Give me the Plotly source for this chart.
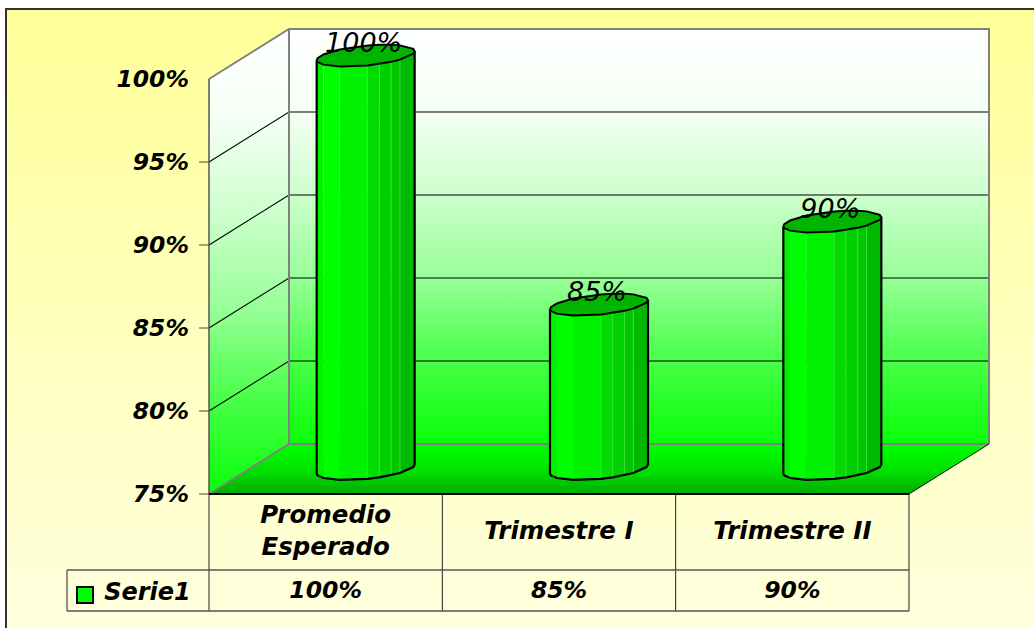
import plotly.graph_objects as go

categories = ["Promedio<br>Esperado", "Trimestre I", "Trimestre II"]
series_name = "Serie1"
series_values = [100, 85, 90]
drawn_heights = [99.9, 84.9, 89.9]
tick_values = [75, 80, 85, 90, 95, 100]

W, H = 1034, 628
L, R, B, T = 209, 909, 494, 79
DPX, DPY = 80, 50
FONT = "DejaVu Sans"

WALL_SCALE = [[0, "#FFFFFF"], [0.2, "#F4FFF4"], [0.4, "#CCFFCC"],
              [0.6, "#98FF98"], [0.8, "#48FF48"], [1, "#08FF08"]]
FLOOR_SCALE = [[0, "#00FF00"], [0.5, "#00E400"], [1, "#00AC00"]]
BACK_SCALE = [[0, "#FFFF99"], [1, "#FFFFDE"]]


def X(px):
    return (px - L) / (R - L) * 3 - 0.5


def Y(py):
    return 75 + (B - py) / (B - T) * 25


DX = DPX / (R - L) * 3
DY = DPY / (B - T) * 25
x0, x1 = -0.5, 2.5
y0, y1 = 75, 100

fig = go.Figure()


def poly(xs, ys, top, bottom, scale):
    fig.add_trace(go.Scatter(
        x=xs, y=ys, mode="lines", fill="toself", line=dict(width=0),
        fillgradient=dict(type="vertical", start=top, stop=bottom, colorscale=scale),
        hoverinfo="skip", showlegend=False))


def lines(segs, color, width):
    xs, ys = [], []
    for s in segs:
        for p in s:
            xs.append(p[0]); ys.append(p[1])
        xs.append(None); ys.append(None)
    fig.add_trace(go.Scatter(x=xs, y=ys, mode="lines", line=dict(color=color, width=width),
                             hoverinfo="skip", showlegend=False))


def text(x, y, s, size, bold=True, color="#000000"):
    fig.add_trace(go.Scatter(
        x=[x], y=[y], mode="text", text=[s], textposition="middle center",
        textfont=dict(family=FONT, size=size, color=color,
                      style="italic", weight="bold" if bold else "normal"),
        hoverinfo="skip", showlegend=False, cliponaxis=False))


# chart area background
poly([X(6), X(W), X(W), X(6), X(6)], [Y(9), Y(9), Y(H), Y(H), Y(9)], Y(9), Y(H), BACK_SCALE)

# walls and floor
poly([x0, x0 + DX, x0 + DX, x0, x0], [y1, y1 + DY, y0 + DY, y0, y1],
     y1 + DY, y0, WALL_SCALE)
poly([x0 + DX, x1 + DX, x1 + DX, x0 + DX, x0 + DX],
     [y1 + DY, y1 + DY, y0 + DY, y0 + DY, y1 + DY],
     y1 + DY, y0 + DY, WALL_SCALE)
poly([x0, x0 + DX, x1 + DX, x1, x0], [y0, y0 + DY, y0 + DY, y0, y0],
     y0 + DY, y0, FLOOR_SCALE)

# gridlines
inner = tick_values[1:-1]
lines([[(x0, v), (x0 + DX, v + DY), (x1 + DX, v + DY)] for v in inner], "#000000", 1.1)
# wall edges
lines([[(x0, y0), (x0 + DX, y0 + DY), (x1 + DX, y0 + DY)],
       [(x0, y1), (x0 + DX, y1 + DY), (x1 + DX, y1 + DY), (x1 + DX, y0 + DY)],
       [(x0 + DX, y1 + DY), (x0 + DX, y0 + DY)]], "#808080", 2)
lines([[(x1, y0), (x1 + DX, y0 + DY)]], "#111111", 1)

# cylinders
U = [-1, -0.98, -0.86, -0.53, 0.04, 0.28, 0.52, 0.7, 0.97, 1]
FACET_U = [(-1, -0.86), (-0.86, -0.53), (-0.53, 0.04), (0.04, 0.28), (0.28, 0.52), (0.52, 0.7), (0.7, 1)]
FACET_C = ["#00F000", "#00FF00", "#00F200", "#00DC00", "#00D000", "#00C600", "#00B800"]
A = 49 / (R - L) * 3
Bb = 10 / (B - T) * 25
TILT = 4.5 / (B - T) * 25


def edge(u, v, sign):
    r = max(0.0, 1 - u * u) ** 0.5
    return v + TILT * u + sign * Bb * r


for i, h in enumerate(drawn_heights):
    cx = i + DX / 2
    cy_top = h + DY / 2
    cy_base = y0 + DY / 2
    for (a, b), c in zip(FACET_U, FACET_C):
        us = [u for u in U if a <= u <= b]
        fx = [cx + A * u for u in us] + [cx + A * u for u in reversed(us)]
        fy = [edge(u, cy_top, -1) for u in us] + [edge(u, cy_base, -1) for u in reversed(us)]
        fig.add_trace(go.Scatter(x=fx + fx[:1], y=fy + fy[:1], mode="lines", fill="toself",
                                 fillcolor=c, line=dict(width=0), hoverinfo="skip",
                                 showlegend=False))
    lines([[(cx + A * u, edge(u, cy_top, -1)), (cx + A * u, edge(u, cy_base, -1))]
           for u in (0.04, 0.28, 0.52, 0.7)], "#33E533", 1)
    # top cap
    tx = [cx + A * u for u in U] + [cx + A * u for u in reversed(U)]
    ty = [edge(u, cy_top, -1) for u in U] + [edge(u, cy_top, 1) for u in reversed(U)]
    fig.add_trace(go.Scatter(x=tx, y=ty, mode="lines", fill="toself", fillcolor="#00B400",
                             line=dict(color="#000000", width=2), hoverinfo="skip",
                             showlegend=False))
    # outline
    ox = [cx - A, cx - A] + [cx + A * u for u in U] + [cx + A]
    oy = [cy_top - TILT, cy_base - TILT] + [edge(u, cy_base, -1) for u in U] + [cy_top + TILT]
    lines([list(zip(ox, oy))], "#000000", 2.2)
    # data label
    text(cx - 2 / (R - L) * 3, cy_top + 10 / (B - T) * 25, f"{series_values[i]}%", 27, bold=False)

# outer frame
lines([[(X(6), Y(H)), (X(6), Y(9)), (X(W), Y(9))]], "#333333", 2)

# value axis line and ticks (no tick at the top edge)
lines([[(x0, y0), (x0, y1)]], "#555555", 1.5)
lines([[(X(199), v), (x0, v)] for v in tick_values[:-1]], "#444444", 1)

# data table
ROW1, ROW2 = Y(570), Y(611)
KEY_L = X(67)
lines([[(x0, y0), (x0, ROW2)]] + [[(k - 0.5, y0), (k - 0.5, ROW2)] for k in (1, 2, 3)]
      + [[(KEY_L, ROW1), (KEY_L, ROW2)]], "#222222", 1)
lines([[(KEY_L, ROW1), (x1, ROW1)], [(KEY_L, ROW2), (x1, ROW2)]], "#555555", 1.5)
lines([[(x0, y0), (x1, y0)]], "#000000", 2)

for i, c in enumerate(categories):
    text(i, Y(532.5), c, 24.5)
    text(i, Y(592.5), f"{series_values[i]}%", 23.5)

fig.add_trace(go.Scatter(x=[X(85)], y=[Y(595)], mode="markers",
                         marker=dict(symbol="square", size=16, color="#00FF00",
                                     line=dict(color="#000000", width=2)),
                         hoverinfo="skip", showlegend=False, cliponaxis=False))
text(X(147.5), Y(593.5), series_name, 24)

fig.update_layout(
    width=W, height=H, margin=dict(l=0, r=0, t=0, b=0, autoexpand=False),
    paper_bgcolor="#FFFFFF", plot_bgcolor="rgba(0,0,0,0)",
    xaxis=dict(domain=[0, 1], range=[X(0), X(W)], visible=False, fixedrange=True),
    yaxis=dict(domain=[0, 1], range=[Y(H), Y(0)], anchor="free", position=L / W,
               tickmode="array", tickvals=tick_values,
               ticktext=[f"{v}%" for v in tick_values],
               ticks="", ticklabelstandoff=20, showgrid=False, zeroline=False,
               showline=False, fixedrange=True,
               tickfont=dict(family=FONT, size=23.5, color="#000000", style="italic", weight="bold")),
    showlegend=False,
)
fig.write_html("out.html", config=dict(displayModeBar=False),
               post_script="document.body.style.margin='0';")
